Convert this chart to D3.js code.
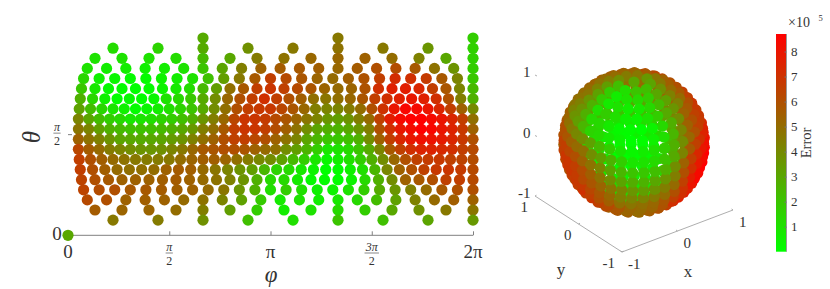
<!DOCTYPE html>
<html lang="en">
<head>
    <meta charset="UTF-8">
    <title>Error over the sphere</title>
    <script src="https://d3js.org/d3.v7.min.js"></script>
    <style>
        body {
            margin: 0;
            background: #fff;
        }
        text {
            font-family: "Liberation Serif", serif;
            fill: #333;
        }
    </style>
</head>
<body>
<main></main>

<script>
    // theta of each row, in units of pi (top row of the left plot first)
    var thetaRows = [0.975, 0.925, 0.875, 0.825, 0.775, 0.725, 0.675, 0.625, 0.575, 0.525,
                     0.475, 0.425, 0.375, 0.325, 0.275, 0.225, 0.175, 0.125, 0.075];

    // error (x 10^5), row by row, phi going left to right.
    // a row of n values sits at phi = 2pi/n ... 2pi
    var errorRows = [
        [2.9,4.6,1.7],
        [1.2,1.5,2.9,3.8,4.6,4.8,4.6,3.6,1.6],
        [1.0,1.0,1.0,1.2,2.4,3.0,4.5,4.8,5.2,5.2,5.4,5.0,4.3,3.0,1.6],
        [1.0,0.6,0.6,0.5,0.6,1.0,2.0,3.1,4.4,5.4,5.6,5.7,5.5,5.2,5.6,6.0,6.1,5.7,4.8,3.7,1.7],
        [1.4,0.5,0.3,0.15,0.1,0.4,0.6,1.0,2.1,3.3,4.6,5.7,6.6,6.2,5.8,5.3,5.1,5.5,5.9,6.6,7.2,7.1,6.7,5.7,4.2,1.9],
        [1.9,0.8,0.2,0.1,0.0,0.1,0.4,0.7,1.2,2.4,3.3,4.9,5.7,6.6,6.9,6.5,6.2,5.8,5.3,5.1,5.3,5.9,7.1,7.6,7.7,7.4,6.6,5.8,4.2,2.4],
        [2.7,1.4,0.5,0.05,0.2,0.05,0.3,1.0,1.3,1.9,2.9,3.9,5.2,6.0,6.6,7.1,6.6,6.0,5.5,4.9,4.7,4.9,5.2,5.8,6.6,7.1,7.6,7.9,7.6,7.1,6.0,4.4,2.7],
        [3.2,2.3,1.4,0.9,0.5,0.1,0.3,0.6,1.1,1.5,2.0,2.9,3.9,4.9,6.0,6.6,6.8,6.8,6.3,5.8,5.2,4.4,4.2,4.2,4.5,5.0,6.0,7.0,8.0,8.5,8.4,8.0,7.4,6.6,5.4,4.0],
        [4.2,3.1,2.3,1.7,1.3,0.8,0.9,1.1,1.5,1.7,2.2,2.7,3.6,4.4,5.2,6.3,6.9,6.9,6.7,6.2,5.8,5.3,4.7,4.2,3.6,3.3,3.7,4.4,5.1,6.5,7.7,8.4,8.7,8.7,8.4,8.0,7.4,6.6,4.9],
        [4.7,4.2,3.3,2.7,2.4,2.1,2.1,2.2,2.4,2.7,3.0,3.5,4.4,4.9,5.7,6.6,6.9,6.9,6.6,6.1,5.5,4.8,3.9,3.1,2.8,2.6,3.0,3.6,4.4,6.0,7.1,7.9,8.3,8.7,8.5,8.0,7.5,6.8,5.4],
        [5.4,4.8,4.3,3.7,3.1,3.0,2.9,3.0,3.1,3.4,3.7,4.3,4.9,5.4,6.0,6.5,6.6,6.3,6.0,5.4,4.8,4.2,3.1,2.5,2.0,1.9,2.2,2.7,3.9,5.4,6.6,7.4,7.9,8.2,8.1,7.8,7.4,6.8,6.0],
        [6.3,5.6,5.1,4.5,4.2,3.9,3.7,3.6,3.8,4.2,4.6,5.2,5.7,5.8,6.0,6.0,5.8,5.4,5.1,4.9,3.9,3.3,2.6,1.7,0.9,1.0,1.3,2.0,2.9,4.2,5.7,6.5,7.1,7.5,7.5,7.3,7.1,6.6,6.2],
        [6.6,6.0,5.5,5.1,4.8,4.6,4.5,4.5,4.6,5.0,5.3,5.5,5.5,5.3,4.9,4.5,4.1,3.9,3.2,2.4,1.7,0.9,0.3,0.6,1.1,1.7,2.7,3.9,5.2,6.0,6.5,6.7,6.8,6.5,6.4,6.1],
        [6.6,6.0,5.5,5.1,4.9,4.9,5.0,5.4,5.6,5.5,5.1,4.7,4.2,3.7,3.3,2.5,1.5,1.3,0.8,0.4,0.0,0.1,0.5,1.1,2.5,4.1,5.4,6.0,6.5,6.8,6.9,6.7,6.2],
        [6.4,6.0,5.7,5.4,5.4,5.4,5.5,5.6,5.4,5.1,4.8,4.3,3.7,2.7,1.3,1.3,0.7,0.2,0.1,0.05,0.4,1.3,2.7,3.9,5.4,5.7,6.0,6.5,6.6,6.2],
        [6.4,6.1,6.0,5.7,5.7,5.6,5.5,5.4,5.1,4.7,3.6,2.7,1.1,1.7,1.1,0.5,0.4,1.0,1.7,2.9,3.6,4.3,5.1,5.7,6.0,6.0],
        [6.2,6.0,5.4,5.5,5.4,5.1,4.8,4.2,3.2,1.8,0.7,1.0,0.6,0.8,1.3,2.3,3.2,4.3,5.1,5.5,5.4],
        [5.6,5.3,5.3,5.0,4.4,3.3,1.7,0.6,1.0,1.3,1.7,3.0,3.8,4.6,4.7],
        [4.6,4.5,3.8,2.2,1.1,2.0,2.2,3.1,3.5]
    ];

    // the single point at the pole
    var polePhi = 0, poleTheta = 0, poleError = 3.0;

    var phiTicks = [0, Math.PI/2, Math.PI, 3*Math.PI/2, 2*Math.PI];
    var phiLabels = ['0', 'π/2', 'π', '3π/2', '2π'];
    var thetaTicks = [0, Math.PI/2];
    var thetaLabels = ['0', 'π/2'];
    var sphereTicks = [-1, 0, 1];
    var errorTicks = [1, 2, 3, 4, 5, 6, 7, 8];
    var errorMax = 8.7;

    var points = [{phi: polePhi, theta: poleTheta, error: poleError}];
    errorRows.forEach(function(row, i){
        row.forEach(function(e, j){
            points.push({phi: (j+1)/row.length*2*Math.PI, theta: thetaRows[i]*Math.PI, error: e});
        });
    });

    var w = 830, h = 289;
    var dotR = 5.6;
    var svg = d3.select('main').append('svg').attr('width', w).attr('height', h)
                .style('display', 'block');

    var color = d3.scaleLinear().domain([0, errorMax]).range(['#00ff00', '#ff0000']);

    //---- left plot, phi against theta
    var xScale = d3.scaleLinear().domain([0, 2*Math.PI]).range([68, 473]);
    var yScale = d3.scaleLinear().domain([0, Math.PI]).range([235.3, 33]);

    function mathLabel(g, label, x, y, size){
        var parts = label.split('/');
        if (parts.length == 2) {
            var half = parts[0].length*3.6;
            g.append('text').attr('x', x).attr('y', y-3).attr('text-anchor', 'middle')
                .attr('font-size', 12).attr('font-style', 'italic').text(parts[0]);
            g.append('line').attr('x1', x-half).attr('x2', x+half).attr('y1', y-1).attr('y2', y-1)
                .attr('stroke', '#555').attr('stroke-width', 0.7);
            g.append('text').attr('x', x).attr('y', y+10.5).attr('text-anchor', 'middle')
                .attr('font-size', 12).text(parts[1]);
        } else {
            g.append('text').attr('x', x).attr('y', y+5).attr('text-anchor', 'middle')
                .attr('font-size', size).text(label);
        }
    }

    var xAxis = d3.axisBottom(xScale).tickValues(phiTicks).tickSize(-4).tickFormat('');
    var xG = svg.append('g').attr('transform', 'translate(0, 235.3)').call(xAxis);
    xG.selectAll('path, line').attr('stroke', '#808080');
    xG.select('.domain').attr('d', 'M68,0H473');
    phiTicks.forEach(function(t, i){
        mathLabel(svg.append('g'), phiLabels[i], xScale(t), phiLabels[i].indexOf('/') > 0 ? 254 : 253, 19);
    });

    var yAxis = d3.axisLeft(yScale).tickValues(thetaTicks).tickSize(-4).tickFormat('');
    var yG = svg.append('g').attr('transform', 'translate(68, 0)').call(yAxis);
    yG.select('.domain').remove();
    yG.selectAll('line').attr('stroke', '#808080');
    thetaTicks.forEach(function(t, i){
        mathLabel(svg.append('g'), thetaLabels[i], 57, yScale(t), 19);
    });

    svg.append('text').attr('x', 271).attr('y', 282).attr('text-anchor', 'middle')
        .attr('font-size', 23).attr('font-style', 'italic').text('φ');
    svg.append('text').attr('transform', 'translate(40, 137) rotate(-90)').attr('text-anchor', 'middle')
        .attr('font-size', 25).attr('font-style', 'italic').text('θ');

    svg.append('g').selectAll('circle')
        .data(points)
        .enter()
        .append('circle')
        .attr('r', dotR)
        .attr('cx', function(d){ return xScale(d.phi); })
        .attr('cy', function(d){ return yScale(d.theta); })
        .style('fill', function(d){ return color(d.error); });

    //---- right plot, the same points on the sphere
    // one scale per axis direction on the screen
    var sxX = d3.scaleLinear().domain([-1, 1]).range([-55.5, 55.5]);
    var sxY = d3.scaleLinear().domain([-1, 1]).range([43.5, -43.5]);
    var syX = d3.scaleLinear().domain([-1, 1]).range([21, -21]);
    var syY = d3.scaleLinear().domain([-1, 1]).range([28, -28]);
    var syZ = d3.scaleLinear().domain([-1, 1]).range([60.5, -60.5]);
    var cx = 634, cy = 142.5;

    function project(x, y, z){
        return [cx + sxX(x) + sxY(y), cy + syX(x) + syY(y) + syZ(z)];
    }
    function depth(d){
        return -0.529*Math.sin(d.theta)*Math.cos(d.phi) - 0.675*Math.sin(d.theta)*Math.sin(d.phi) + 0.496*Math.cos(d.theta);
    }

    var corner = project(-1, -1, -1), xEnd = project(1, -1, -1), yEnd = project(-1, 1, -1);
    svg.append('path')
        .attr('d', d3.line()([yEnd, corner, xEnd]))
        .attr('fill', 'none')
        .attr('stroke', '#999')
        .attr('stroke-width', 0.8);

    sphereTicks.forEach(function(t){
        var px = project(t, -1, -1), py = project(-1, t, -1), pz = project(-1, 1, t);
        svg.append('text').attr('class', 'tick3d').attr('text-anchor', 'start')
            .attr('x', px[0]+6).attr('y', px[1]+16.5).text(t);
        svg.append('text').attr('class', 'tick3d').attr('text-anchor', 'end')
            .attr('x', py[0]-7).attr('y', py[1]+15.5).text(t);
        svg.append('text').attr('class', 'tick3d').attr('text-anchor', 'end')
            .attr('x', pz[0]-4.5).attr('y', pz[1]+2).text(t);
        // small marks on the axes
        svg.append('line').attr('x1', pz[0]).attr('x2', pz[0]+2).attr('y1', pz[1]).attr('y2', pz[1]+1)
            .attr('stroke', t == -1 ? 'none' : '#999').attr('stroke-width', 0.8);
        svg.append('line').attr('x1', px[0]).attr('x2', px[0]-1.5).attr('y1', px[1]).attr('y2', px[1]-1)
            .attr('stroke', '#999').attr('stroke-width', 0.8);
        svg.append('line').attr('x1', py[0]).attr('x2', py[0]+1.5).attr('y1', py[1]).attr('y2', py[1]-0.8)
            .attr('stroke', '#999').attr('stroke-width', 0.8);
    });
    svg.selectAll('.tick3d').attr('font-size', 15);

    svg.append('text').attr('x', 688).attr('y', 277).attr('text-anchor', 'middle').attr('font-size', 17).text('x');
    svg.append('text').attr('x', 561).attr('y', 275).attr('text-anchor', 'middle').attr('font-size', 17).text('y');

    var sorted = points.slice().sort(function(a, b){ return depth(a) - depth(b); });
    svg.append('g').selectAll('circle')
        .data(sorted)
        .enter()
        .append('circle')
        .attr('r', dotR)
        .attr('cx', function(d){ return project(Math.sin(d.theta)*Math.cos(d.phi), Math.sin(d.theta)*Math.sin(d.phi), Math.cos(d.theta))[0]; })
        .attr('cy', function(d){ return project(Math.sin(d.theta)*Math.cos(d.phi), Math.sin(d.theta)*Math.sin(d.phi), Math.cos(d.theta))[1]; })
        .style('fill', function(d){ return color(d.error); });

    //---- colour bar
    var barScale = d3.scaleLinear().domain([0, errorMax]).range([251.7, 34]);
    var defs = svg.append('defs');
    var grad = defs.append('linearGradient').attr('id', 'errorGrad')
        .attr('x1', 0).attr('x2', 0).attr('y1', 1).attr('y2', 0);
    grad.append('stop').attr('offset', '0%').attr('stop-color', color(0));
    grad.append('stop').attr('offset', '100%').attr('stop-color', color(errorMax));
    svg.append('rect').attr('x', 776).attr('y', 34).attr('width', 10.5).attr('height', 217.7)
        .attr('fill', 'url(#errorGrad)');

    var barAxis = d3.axisRight(barScale).tickValues(errorTicks).tickSize(-2).tickPadding(4.5).tickFormat(d3.format('d'));
    var barG = svg.append('g').attr('transform', 'translate(786.5, 0)').call(barAxis);
    barG.select('.domain').attr('stroke', '#999').attr('d', 'M0,34V251.7');
    barG.selectAll('line').attr('stroke', '#777');
    barG.selectAll('text').attr('font-size', 13).attr('font-family', null);

    svg.append('text').attr('transform', 'translate(811, 143) rotate(-90)').attr('text-anchor', 'middle')
        .attr('font-size', 14.5).text('Error');
    svg.append('text').attr('x', 788).attr('y', 27).attr('font-size', 14).text('×10');
    svg.append('text').attr('x', 818.5).attr('y', 21).attr('font-size', 8.5).text('5');
</script>
</body>
</html>
